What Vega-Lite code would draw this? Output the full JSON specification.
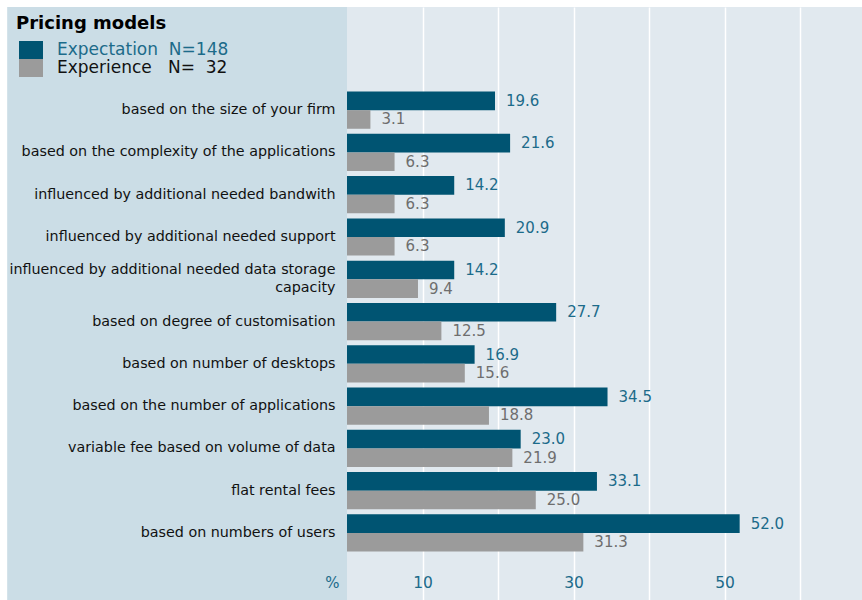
{
  "$schema": "https://vega.github.io/schema/vega-lite/v6.json",
  "width": 515,
  "height": 593,
  "autosize": {"type": "none"},
  "padding": {"left": 347, "top": 7, "right": 0, "bottom": 0},
  "background": "white",
  "config": {
    "font": "DejaVu Sans",
    "view": {"fill": "#e1e9ef", "stroke": null}
  },
  "data": {
    "values": [
      {"category": "based on the size of your firm", "series": "Expectation", "value": 19.6},
      {"category": "based on the size of your firm", "series": "Experience", "value": 3.1},
      {"category": "based on the complexity of the applications", "series": "Expectation", "value": 21.6},
      {"category": "based on the complexity of the applications", "series": "Experience", "value": 6.3},
      {"category": "influenced by additional needed bandwith", "series": "Expectation", "value": 14.2},
      {"category": "influenced by additional needed bandwith", "series": "Experience", "value": 6.3},
      {"category": "influenced by additional needed support", "series": "Expectation", "value": 20.9},
      {"category": "influenced by additional needed support", "series": "Experience", "value": 6.3},
      {"category": "influenced by additional needed data storage capacity", "series": "Expectation", "value": 14.2},
      {"category": "influenced by additional needed data storage capacity", "series": "Experience", "value": 9.4},
      {"category": "based on degree of customisation", "series": "Expectation", "value": 27.7},
      {"category": "based on degree of customisation", "series": "Experience", "value": 12.5},
      {"category": "based on number of desktops", "series": "Expectation", "value": 16.9},
      {"category": "based on number of desktops", "series": "Experience", "value": 15.6},
      {"category": "based on the number of applications", "series": "Expectation", "value": 34.5},
      {"category": "based on the number of applications", "series": "Experience", "value": 18.8},
      {"category": "variable fee based on volume of data", "series": "Expectation", "value": 23.0},
      {"category": "variable fee based on volume of data", "series": "Experience", "value": 21.9},
      {"category": "flat rental fees", "series": "Expectation", "value": 33.1},
      {"category": "flat rental fees", "series": "Experience", "value": 25.0},
      {"category": "based on numbers of users", "series": "Expectation", "value": 52.0},
      {"category": "based on numbers of users", "series": "Experience", "value": 31.3}
    ]
  },
  "layer": [
    {
      "data": {"values": [{}]},
      "mark": {"type": "rect", "color": "#cbdde6"},
      "encoding": {
        "x": {"datum": -45, "type": "quantitative"},
        "x2": {"datum": 0}
      }
    },
    {
      "mark": {"type": "bar"},
      "encoding": {
        "x": {
          "field": "value",
          "type": "quantitative",
          "scale": {"domain": [0, 68.2], "nice": false, "zero": false},
          "axis": {
            "orient": "bottom",
            "values": [10, 20, 30, 40, 50, 60],
            "grid": true,
            "gridColor": "white",
            "gridWidth": 1.5,
            "gridOpacity": 1,
            "ticks": false,
            "domain": false,
            "labelExpr": "datum.value % 20 == 10 ? datum.label : ''",
            "labelPadding": -18,
            "labelBaseline": "middle",
            "labelColor": "#1c6b8a",
            "labelFontSize": 15.5,
            "title": null,
            "zindex": 0
          }
        },
        "y": {
          "field": "category",
          "type": "nominal",
          "sort": null,
          "scale": {
            "domain": [" ", "  ",
              "based on the size of your firm",
              "based on the complexity of the applications",
              "influenced by additional needed bandwith",
              "influenced by additional needed support",
              "influenced by additional needed data storage capacity",
              "based on degree of customisation",
              "based on number of desktops",
              "based on the number of applications",
              "variable fee based on volume of data",
              "flat rental fees",
              "based on numbers of users",
              "   "],
            "paddingInner": 0.12,
            "paddingOuter": 0.0726,
            "align": 0
          },
          "axis": {
            "ticks": false,
            "domain": false,
            "labelPadding": 12,
            "labelFontSize": 14.3,
            "labelColor": "#111111",
            "labelLimit": 400,
            "labelLineHeight": 18,
            "labelExpr": "datum.label == 'influenced by additional needed data storage capacity' ? ['influenced by additional needed data storage', 'capacity'] : datum.label",
            "labelOffset": {
              "condition": {"test": "datum.value == 'influenced by additional needed data storage capacity'", "value": -9},
              "value": 0
            },
            "title": "%",
            "titleAngle": 0,
            "titleX": -8,
            "titleY": 575,
            "titleAlign": "right",
            "titleBaseline": "middle",
            "titleColor": "#1c6b8a",
            "titleFontWeight": "normal",
            "titleFontSize": 15,
            "zindex": 1
          }
        },
        "yOffset": {
          "field": "series",
          "type": "nominal",
          "scale": {"domain": ["Expectation", "Experience"], "paddingInner": 0, "paddingOuter": 0}
        },
        "color": {
          "field": "series",
          "type": "nominal",
          "scale": {"domain": ["Expectation", "Experience"], "range": ["#005472", "#9b9b9b"]},
          "legend": {
            "orient": "none",
            "legendX": -331,
            "legendY": 8,
            "title": "Pricing models",
            "titleFontSize": 18,
            "titleFontWeight": "bold",
            "titleColor": "black",
            "titlePadding": 8,
            "symbolType": "M-1.333,-1H1.333V1H-1.333Z",
            "symbolSize": 324,
            "symbolStrokeWidth": 0,
            "symbolOpacity": 1,
            "symbolOffset": 6,
            "labelFontSize": 17,
            "labelOffset": 17,
            "labelLimit": 400,
            "rowPadding": 0,
            "labelExpr": "datum.value == 'Expectation' ? 'Expectation\u00a0\u00a0N=148' : 'Experience\u00a0\u00a0\u00a0N=\u200732'",
            "zindex": 1,
            "encode": {
              "labels": {
                "update": {
                  "fill": {"signal": "datum.value == 'Expectation' ? '#1c6b8a' : '#111111'"}
                }
              }
            }
          }
        }
      }
    },
    {
      "mark": {"type": "text", "align": "left", "baseline": "middle", "dx": 11, "fontSize": 15},
      "encoding": {
        "x": {"field": "value", "type": "quantitative"},
        "y": {"field": "category", "type": "nominal", "sort": null},
        "yOffset": {"field": "series", "type": "nominal"},
        "text": {"field": "value", "type": "quantitative", "format": ".1f"},
        "color": {
          "condition": {"test": "datum.series == 'Expectation'", "value": "#1c6b8a"},
          "value": "#6e6e6e"
        }
      }
    }
  ]
}
